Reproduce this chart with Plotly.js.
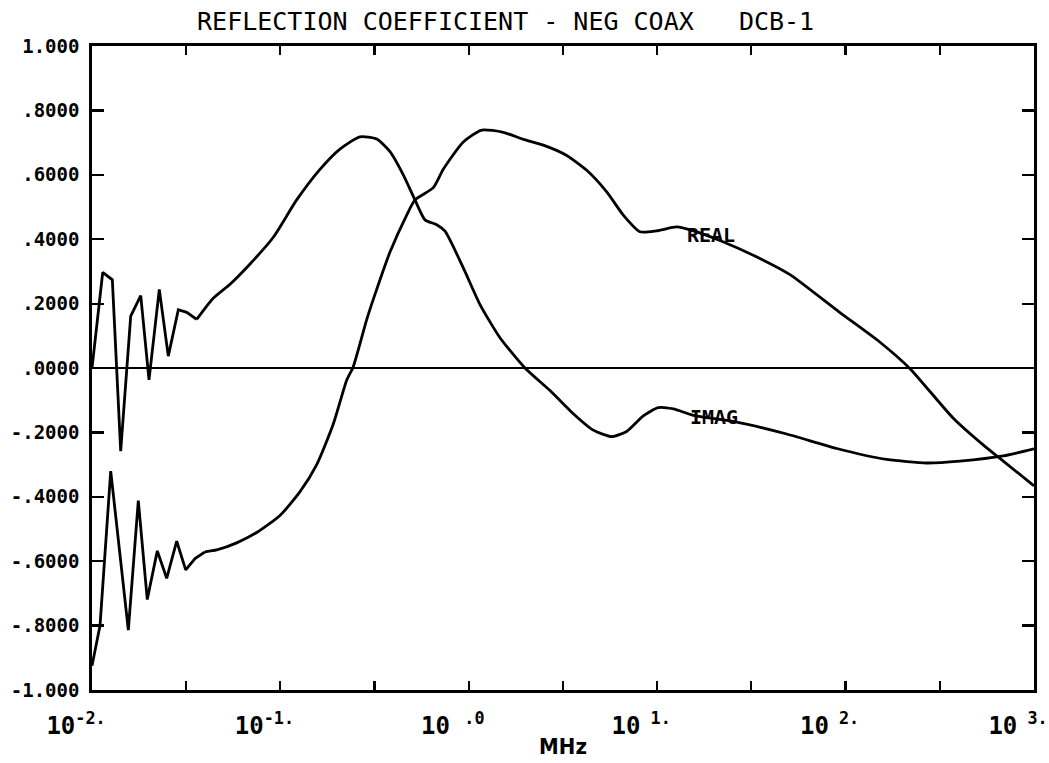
<!DOCTYPE html>
<html>
<head>
<meta charset="utf-8">
<script src="https://cdn.plot.ly/plotly-3.0.1.min.js"></script>
<style>html,body{margin:0;padding:0;background:#fff;}#chart{width:1049px;height:763px;}</style>
</head>
<body>
<div id="chart"></div>
<script>
// Frequency (MHz) and values
var realFreq = [0.0100, 0.01103, 0.01257, 0.01559, 0.01761, 0.01965, 0.02221, 0.02491, 0.02816, 0.03143,
  0.03522, 0.03980, 0.04590, 0.05861, 0.07485, 0.09952, 0.1271, 0.1559, 0.1909, 0.2248,
  0.2437, 0.2871, 0.3112, 0.3817, 0.4682, 0.5181, 0.6481, 0.7320, 0.9350, 1.171,
  1.524, 1.947, 2.486, 3.308, 4.225, 5.395, 6.608, 8.103, 9.938, 12.69,
  15.55, 21.54, 36.58, 50.69, 93.39, 152.3, 219.7, 372.9, 561.0, 687.1, 1000];
var realVal = [-0.925, -0.800, -0.320, -0.814, -0.412, -0.719, -0.568, -0.653, -0.538, -0.627,
  -0.592, -0.571, -0.565, -0.543, -0.511, -0.458, -0.384, -0.300, -0.174, -0.038,
  0.004, 0.150, 0.213, 0.360, 0.475, 0.522, 0.560, 0.617, 0.702, 0.739,
  0.732, 0.710, 0.692, 0.660, 0.614, 0.547, 0.475, 0.423, 0.426, 0.438,
  0.426, 0.396, 0.335, 0.290, 0.172, 0.080, -0.002, -0.156, -0.248, -0.289, -0.366];

var imagFreq = [0.0100, 0.01140, 0.01282, 0.01420, 0.01605, 0.01814, 0.02007, 0.02276, 0.02541, 0.02872,
  0.03184, 0.03595, 0.04388, 0.05404, 0.06898, 0.09170, 0.1220, 0.1622, 0.2071, 0.2646,
  0.3245, 0.3817, 0.4490, 0.5181, 0.5855, 0.6755, 0.7475, 0.9350, 1.147, 1.464,
  1.987, 2.698, 3.586, 4.580, 5.735, 6.888, 8.436, 10.13, 12.18, 15.55,
  25.34, 48.68, 89.71, 165.3, 269.5, 404.8, 687.1, 1000];
var imagVal = [0.000, 0.297, 0.274, -0.258, 0.161, 0.225, -0.037, 0.244, 0.037, 0.181,
  0.173, 0.151, 0.216, 0.260, 0.323, 0.406, 0.522, 0.617, 0.680, 0.718,
  0.711, 0.672, 0.600, 0.522, 0.460, 0.445, 0.425, 0.311, 0.197, 0.094,
  0.000, -0.070, -0.142, -0.193, -0.213, -0.197, -0.149, -0.123, -0.127, -0.147,
  -0.166, -0.205, -0.250, -0.284, -0.295, -0.289, -0.273, -0.251];

// index where the jagged low-frequency part ends (drawn with straight segments)
var realJagEnd = 11;
var imagJagEnd = 11;

var xTickVals = [0.01, 0.0316, 0.1, 0.316, 1, 3.16, 10, 31.6, 100, 316, 1000];
var xTickText = ['10<sup>-2.</sup>', '', '10<sup>-1.</sup>', '', '10 <sup>.0</sup>', '', '10<sup> 1.</sup>', '', '10<sup> 2.</sup>', '', '10<sup> 3.</sup>'];
var yTickVals = [1, 0.8, 0.6, 0.4, 0.2, 0, -0.2, -0.4, -0.6, -0.8, -1];
var yTickText = ['1.000', '.8000', '.6000', '.4000', '.2000', '.0000', '-.2000', '-.4000', '-.6000', '-.8000', '-1.000'];

var labels = [
  {text: 'REAL', x: 19.3, y: 0.413},
  {text: 'IMAG', x: 20.0, y: -0.152}
];

var FONT = 'DejaVu Sans Mono, Liberation Mono, monospace';

function part(xs, ys, a, b, shape) {
  return {x: xs.slice(a, b), y: ys.slice(a, b), type: 'scatter', mode: 'lines',
          line: {color: '#000', width: 2.8, shape: shape, smoothing: 0.6}};
}

var traces = [
  part(realFreq, realVal, 0, realJagEnd + 1, 'linear'),
  part(realFreq, realVal, realJagEnd, realFreq.length, 'spline'),
  part(imagFreq, imagVal, 0, imagJagEnd + 1, 'linear'),
  part(imagFreq, imagVal, imagJagEnd, imagFreq.length, 'spline')
];

var layout = {
  width: 1049, height: 763,
  margin: {l: 92, r: 15, t: 46, b: 73},
  paper_bgcolor: '#fff', plot_bgcolor: '#fff',
  showlegend: false,
  title: {text: 'REFLECTION COEFFICIENT - NEG COAX   DCB-1', x: 0.482, xref: 'container',
          y: 0.972, yref: 'container', yanchor: 'middle', xanchor: 'center',
          font: {family: FONT, size: 25, color: '#000'}},
  xaxis: {
    type: 'log', range: [-2, 3],
    tickmode: 'array', tickvals: xTickVals, ticktext: xTickText,
    ticks: 'inside', ticklen: 9, tickwidth: 2.2, tickcolor: '#000',
    showline: true, linecolor: '#000', linewidth: 2.8, mirror: 'ticks',
    showgrid: false, zeroline: false,
    tickfont: {family: FONT, size: 24, color: '#000', weight: 'bold'},
    ticklabelshift: -16, ticklabelstandoff: 12,
    title: {text: 'MHz', standoff: 0, font: {family: 'DejaVu Sans Condensed, DejaVu Sans, sans-serif', size: 22, color: '#000', weight: 'bold'}}
  },
  yaxis: {
    range: [-1, 1],
    tickmode: 'array', tickvals: yTickVals, ticktext: yTickText,
    ticks: 'inside', ticklen: 12, tickwidth: 2.2, tickcolor: '#000',
    showline: true, linecolor: '#000', linewidth: 2.8, mirror: 'ticks',
    showgrid: false,
    zeroline: true, zerolinecolor: '#000', zerolinewidth: 2.4,
    tickfont: {family: FONT, size: 19, color: '#000', weight: 'bold'},
    ticklabelstandoff: 6
  },
  annotations: labels.map(function (l) {
    return {text: l.text, x: Math.log10(l.x), y: l.y, xref: 'x', yref: 'y',
            showarrow: false, xanchor: 'center', yanchor: 'middle',
            font: {family: FONT, size: 20, color: '#000', weight: 'bold'}};
  })
};

Plotly.newPlot('chart', traces, layout, {staticPlot: true, displayModeBar: false});
</script>
</body>
</html>
